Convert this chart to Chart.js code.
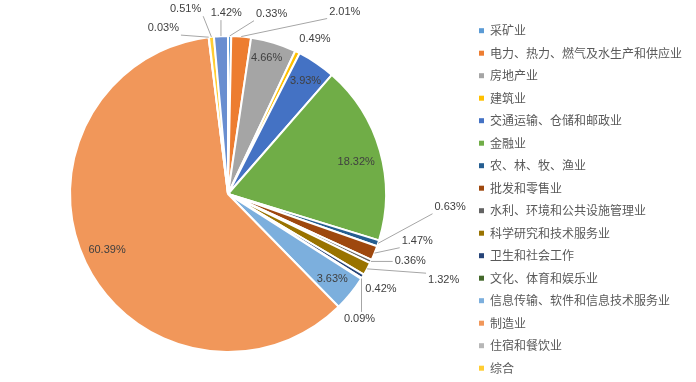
<!DOCTYPE html>
<html>
<head>
<meta charset="utf-8">
<script src="https://cdn.jsdelivr.net/npm/chart.js@4/dist/chart.umd.min.js"></script>
<style>
  html, body { margin: 0; padding: 0; background: #fff; }
  #wrap { width: 696px; height: 382px; }
</style>
</head>
<body>
<div id="wrap"><canvas id="chart" width="696" height="382"></canvas></div>
<script>
// industries, clockwise from 12 o'clock
const industries = [
  '采矿业', '电力、热力、燃气及水生产和供应业', '房地产业', '建筑业',
  '交通运输、仓储和邮政业', '金融业', '农、林、牧、渔业', '批发和零售业',
  '水利、环境和公共设施管理业', '科学研究和技术服务业', '卫生和社会工作',
  '文化、体育和娱乐业', '信息传输、软件和信息技术服务业', '制造业',
  '住宿和餐饮业', '综合', '其他'
];
// share of total, %
const shares = [
  0.33, 2.01, 4.66, 0.49, 3.93, 18.32, 0.63, 1.47, 0.36, 1.32, 0.42,
  0.09, 3.63, 60.39, 0.03, 0.51, 1.42
];
const sliceColors = [
  '#5b9bd5', '#ed7d31', '#a5a5a5', '#ffc000', '#4472c4', '#70ad47',
  '#255e91', '#9e480e', '#636363', '#997300', '#264478', '#43682b',
  '#7cafdd', '#f1975a', '#b7b7b7', '#ffcd33', '#698ed0'
];
// only the first 16 fit in the legend
const legendCount = 16;

// label placement per slice: distance as a multiple of the radius,
// and angle shift (degrees) from the slice's middle
const labelRadius = [
  1.174, 1.371, 0.893, 1.125, 0.868, 0.836, 1.408, 1.234, 1.228,
  1.470, 1.138, 1.148, 0.853, 0.843, 1.127, 1.200, 1.145
];
const labelShift = [
  13.0, 27.8, -0.9, 3.2, 0.4, 2.0, -14.9, -8.1, -5.2,
  -6.5, 0.3, 11.2, 0.3, 1.0, -14.3, -6.9, 2.0
];

const labelFont = '11px "Liberation Sans", Arial, sans-serif';
const legendFont = '12px "Noto Sans CJK SC", sans-serif';

const pctLabels = {
  id: 'pctLabels',
  afterDatasetsDraw(chart) {
    const ctx = chart.ctx;
    const meta = chart.getDatasetMeta(0);
    ctx.save();
    ctx.font = labelFont;
    ctx.textAlign = 'center';
    ctx.textBaseline = 'middle';
    meta.data.forEach((arc, i) => {
      const p = arc.getProps(['x', 'y', 'startAngle', 'endAngle', 'outerRadius'], true);
      const mid = (p.startAngle + p.endAngle) / 2;
      const a = mid + labelShift[i] * Math.PI / 180;
      const k = labelRadius[i];
      const tx = p.x + Math.cos(a) * p.outerRadius * k;
      const ty = p.y + Math.sin(a) * p.outerRadius * k;
      const text = shares[i].toFixed(2) + '%';
      const w = ctx.measureText(text).width;
      if (k > 1) {
        // leader line from the slice edge to the closest side of the label
        const ax = p.x + Math.cos(mid) * p.outerRadius;
        const ay = p.y + Math.sin(mid) * p.outerRadius;
        const l = tx - w / 2 - 2, r = tx + w / 2 + 2;
        const t = ty - 7, b = ty + 7;
        const nx = Math.min(Math.max(ax, l), r);
        const ny = Math.min(Math.max(ay, t), b);
        if (Math.hypot(nx - ax, ny - ay) > 9) {
          ctx.strokeStyle = '#a6a6a6';
          ctx.lineWidth = 1;
          ctx.beginPath();
          ctx.moveTo(ax, ay);
          ctx.lineTo(nx, ny);
          ctx.stroke();
        }
      }
      ctx.fillStyle = '#404040';
      ctx.fillText(text, tx, ty);
    });
    ctx.restore();
  }
};

const sideLegend = {
  id: 'sideLegend',
  afterDraw(chart) {
    const ctx = chart.ctx;
    ctx.save();
    ctx.font = legendFont;
    ctx.textBaseline = 'middle';
    for (let i = 0; i < legendCount; i++) {
      const y = 30.7 + i * 22.5;
      ctx.fillStyle = sliceColors[i];
      ctx.fillRect(479, y - 2.5, 5, 5);
      ctx.fillStyle = '#595959';
      ctx.fillText(industries[i], 490, y);
    }
    ctx.restore();
  }
};

new Chart(document.getElementById('chart'), {
  type: 'pie',
  data: {
    labels: industries,
    datasets: [{
      data: shares,
      backgroundColor: sliceColors,
      borderColor: '#ffffff',
      borderWidth: 2
    }]
  },
  options: {
    responsive: false,
    animation: false,
    layout: { padding: { left: 69, right: 309, top: 35, bottom: 29 } },
    plugins: {
      legend: { display: false },
      tooltip: { enabled: false }
    }
  },
  plugins: [pctLabels, sideLegend]
});
</script>
</body>
</html>
